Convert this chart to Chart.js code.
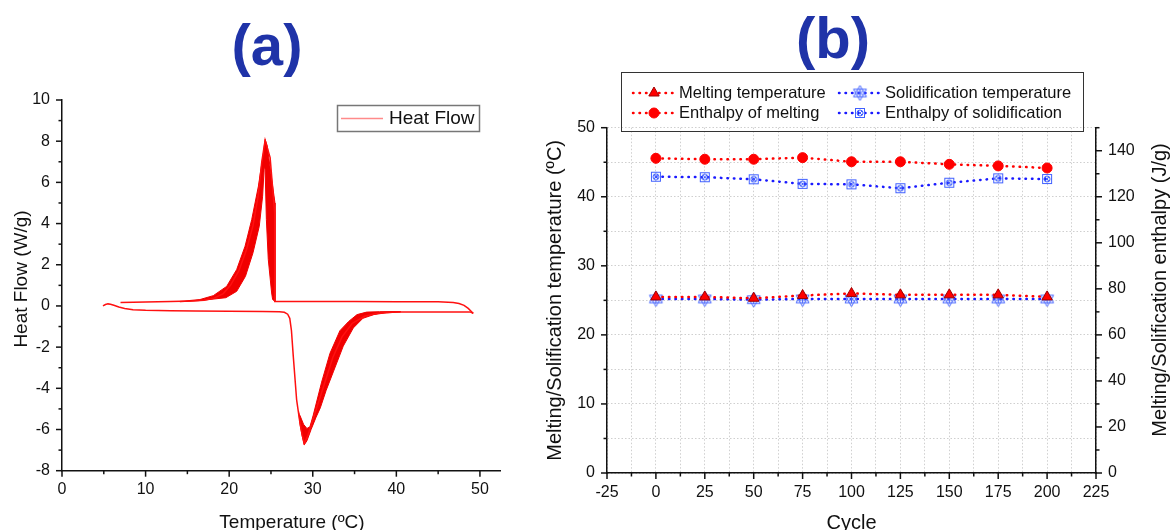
<!DOCTYPE html>
<html>
<head>
<meta charset="utf-8">
<title>DSC and thermal cycling</title>
<script src="https://cdn.jsdelivr.net/npm/chart.js@4.4.1/dist/chart.umd.min.js"></script>
<style>
  html, body { margin: 0; padding: 0; background: #fff; overflow: hidden; }
  #wrap { position: relative; width: 1174px; height: 530px; }
  #wrap canvas { position: absolute; top: 0; }
  #dsc { left: 0; }
  #cyc { left: 540px; }
</style>
</head>
<body>
<div id="wrap">
  <canvas id="dsc" width="530" height="535"></canvas>
  <canvas id="cyc" width="634" height="535"></canvas>
</div>
<script>
const FONT = '"Liberation Sans", Arial, Helvetica, sans-serif';
Chart.defaults.font.family = FONT;
Chart.defaults.color = '#111';

// ---------- (a) DSC scan ----------
// heating run (lower trace): temperature in ºC, heat flow in W/g
const heatT = [4.9, 5.2, 5.5, 5.8, 6.2, 6.8, 7.5, 8.5, 10, 13, 16, 20, 24, 26.0, 26.6, 27.0, 27.25, 27.45, 27.67, 28.07, 28.47, 28.75, 28.99, 29.4, 30.2, 31.3, 32.4, 33.5, 34.7, 36.2, 37.8, 40, 44, 48.8, 49.2];
const heatQ = [0.0, 0.07, 0.1, 0.08, 0.03, -0.05, -0.12, -0.18, -0.21, -0.23, -0.25, -0.26, -0.27, -0.28, -0.31, -0.4, -0.6, -1.2, -2.45, -4.56, -5.69, -6.3, -6.67, -6.3, -5.3, -3.9, -2.5, -1.5, -0.85, -0.5, -0.35, -0.3, -0.29, -0.29, -0.36];
// cooling run (upper trace)
const coolT = [49.2, 49.0, 48.6, 48.1, 47.5, 46.8, 45, 40, 35, 30, 25.45, 25.45, 24.9, 24.3, 23.9, 23.45, 22.85, 22.05, 21.15, 20.15, 19.3, 18.2, 17.0, 15.5, 13, 10, 7.0];
const coolQ = [-0.36, -0.28, -0.12, 0.03, 0.12, 0.17, 0.2, 0.2, 0.21, 0.21, 0.22, 4.5, 7.2, 8.05, 7.0, 5.3, 3.9, 2.7, 1.7, 1.0, 0.6, 0.38, 0.28, 0.24, 0.21, 0.19, 0.17];
// spread of the overlaid cycles around the crystallisation peak (closed outline)
const exoT = [14.1, 16.5, 18.1, 19.7, 20.9, 21.9, 22.7, 23.5, 24.1, 24.3, 24.56, 25.0, 25.48, 25.48, 25.2, 25.08, 24.68, 24.45, 24.3, 24.2, 24.0, 23.6, 22.85, 21.95, 20.9, 19.6, 16.5, 14.1];
const exoQ = [0.22, 0.31, 0.50, 0.95, 1.77, 2.90, 4.20, 5.82, 7.44, 8.09, 7.76, 6.4, 5.0, 0.22, 0.31, 0.63, 2.25, 4.20, 6.63, 6.8, 5.33, 3.87, 2.58, 1.44, 0.71, 0.4, 0.26, 0.20];
// spread around the melting peak
const endoT = [28.3, 28.5, 28.75, 28.97, 29.3, 29.8, 30.4, 30.9, 31.6, 32.46, 33.65, 34.85, 36.0, 37.3, 38.8, 40.5, 40.5, 38.0, 36.44, 35.3, 34.3, 33.25, 32.06, 31.06, 30.06, 29.66, 29.3, 28.9, 28.45];
const endoQ = [-5.1, -5.8, -6.35, -6.75, -6.55, -6.0, -5.4, -4.95, -4.1, -3.2, -1.95, -1.07, -0.6, -0.42, -0.33, -0.3, -0.27, -0.28, -0.3, -0.42, -0.75, -1.2, -2.3, -3.7, -5.3, -5.87, -5.95, -5.75, -5.3];

// ---------- (b) thermal cycling ----------
const cycles = [0, 25, 50, 75, 100, 125, 150, 175, 200];
const meltTemp = [25.5, 25.5, 25.3, 25.7, 26.0, 25.8, 25.8, 25.8, 25.5];
const solidTemp = [25.2, 25.2, 25.1, 25.2, 25.2, 25.2, 25.2, 25.2, 25.2];
const meltEnthalpy = [136.7, 136.3, 136.3, 137.0, 135.2, 135.2, 134.1, 133.4, 132.5];
const solidEnthalpy = [128.7, 128.5, 127.6, 125.6, 125.4, 123.7, 126.1, 128.0, 127.7];

const xy = (xs, ys) => xs.map((x, i) => ({ x: x, y: ys[i] }));

// marker glyphs for the blue series
function hexStar(color) {
  const c = document.createElement('canvas');
  c.width = c.height = 17;
  const g = c.getContext('2d');
  const m = 8.5, r = 7.5;
  g.strokeStyle = color;
  g.lineWidth = 1;
  [-Math.PI / 2, Math.PI / 2].forEach(a0 => {
    g.beginPath();
    for (let k = 0; k < 3; k++) {
      const a = a0 + k * 2 * Math.PI / 3;
      g.lineTo(m + r * Math.cos(a), m + r * Math.sin(a));
    }
    g.closePath();
    g.stroke();
  });
  g.beginPath();
  for (let k = 0; k < 3; k++) {
    const a = Math.PI / 6 + k * Math.PI / 3;
    g.moveTo(m - 4 * Math.cos(a), m - 4 * Math.sin(a));
    g.lineTo(m + 4 * Math.cos(a), m + 4 * Math.sin(a));
  }
  g.stroke();
  return c;
}

function boxedCircle(color) {
  const c = document.createElement('canvas');
  c.width = c.height = 12;
  const g = c.getContext('2d');
  g.strokeStyle = color;
  g.lineWidth = 1;
  g.strokeRect(1.5, 1.5, 9, 9);
  g.beginPath();
  g.arc(6, 6, 3, 0, 2 * Math.PI);
  g.stroke();
  g.beginPath();
  g.moveTo(4, 4); g.lineTo(8, 8);
  g.moveTo(8, 4); g.lineTo(4, 8);
  g.stroke();
  return c;
}

// big panel letter above each plot
const panelTag = {
  id: 'panelTag',
  afterDraw(chart, args, o) {
    const ctx = chart.ctx;
    ctx.save();
    ctx.font = 'bold 58px ' + FONT;
    ctx.fillStyle = '#1f33a8';
    ctx.textAlign = 'center';
    ctx.textBaseline = 'alphabetic';
    ctx.fillText(o.text, o.x, o.y);
    ctx.restore();
  }
};

// outward tick marks, long on labelled values and short in between
const outerTicks = {
  id: 'outerTicks',
  afterDraw(chart, args, o) {
    const ctx = chart.ctx;
    ctx.save();
    ctx.strokeStyle = '#111';
    ctx.lineWidth = 1.5;
    Object.values(chart.scales).forEach(s => {
      const step = o[s.id];
      if (!step) return;
      s.ticks.forEach(t => {
        const q = t.value / step;
        const len = Math.abs(q - Math.round(q)) < 1e-6 ? 6 : 3.5;
        const p = s.getPixelForValue(t.value);
        ctx.beginPath();
        if (s.isHorizontal()) {
          ctx.moveTo(p, s.top); ctx.lineTo(p, s.top + len);
        } else if (s.position === 'left') {
          ctx.moveTo(s.right, p); ctx.lineTo(s.right - len, p);
        } else {
          ctx.moveTo(s.left, p); ctx.lineTo(s.left + len, p);
        }
        ctx.stroke();
      });
    });
    ctx.restore();
  }
};

// framed legend with a line sample and marker per entry
const boxLegend = {
  id: 'boxLegend',
  afterDraw(chart, args, o) {
    const ctx = chart.ctx;
    const ds = chart.data.datasets;
    ctx.save();
    ctx.strokeStyle = o.frame;
    ctx.lineWidth = o.frameWidth;
    ctx.strokeRect(o.box[0], o.box[1], o.box[2], o.box[3]);
    o.items.forEach(it => {
      const d = ds[it.index];
      ctx.save();
      ctx.strokeStyle = o.sampleColor || d.borderColor;
      ctx.lineWidth = o.sampleWidth || d.borderWidth;
      ctx.lineCap = d.borderCapStyle || 'butt';
      ctx.setLineDash(d.borderDash || []);
      ctx.beginPath();
      ctx.moveTo(it.x, it.y);
      ctx.lineTo(it.x + o.sample, it.y);
      ctx.stroke();
      ctx.restore();
      if (d.pointRadius) {
        ctx.fillStyle = d.pointBackgroundColor;
        ctx.strokeStyle = d.pointBorderColor;
        ctx.lineWidth = d.pointBorderWidth;
        Chart.helpers.drawPoint(ctx, { pointStyle: d.pointStyle, radius: d.pointRadius, rotation: 0, borderWidth: d.pointBorderWidth }, it.x + o.sample / 2, it.y);
      }
      ctx.fillStyle = '#111';
      ctx.font = o.fontSize + 'px ' + FONT;
      ctx.textBaseline = 'middle';
      ctx.textAlign = 'left';
      ctx.fillText(d.label, it.x + o.sample + o.gap, it.y);
    });
    ctx.restore();
  }
};

// axis captions placed by hand; vertical ones read bottom to top
const captions = {
  id: 'captions',
  afterDraw(chart, args, o) {
    const ctx = chart.ctx;
    o.list.forEach(c => {
      ctx.save();
      ctx.translate(c.x, c.y);
      if (c.vertical) ctx.rotate(-Math.PI / 2);
      ctx.font = c.size + 'px ' + FONT;
      ctx.fillStyle = '#111';
      ctx.textAlign = 'center';
      ctx.textBaseline = 'middle';
      ctx.fillText(c.text, 0, 0);
      ctx.restore();
    });
  }
};

const tickFont = { size: 16 };
const every = n => v => (Math.abs(v / n - Math.round(v / n)) < 1e-6 ? v : '');

// ---------- chart (a) ----------
new Chart(document.getElementById('dsc'), {
  type: 'line',
  data: {
    datasets: [
      { label: 'Heat Flow', data: xy(coolT, coolQ), borderColor: '#ff1010', borderWidth: 1.5, pointRadius: 0, tension: 0, fill: false },
      { label: 'Heat Flow (heating)', data: xy(heatT, heatQ), borderColor: '#ff1010', borderWidth: 1.5, pointRadius: 0, tension: 0, fill: false },
      { label: '', data: xy(exoT, exoQ), borderColor: '#f00000', backgroundColor: '#f00000', borderWidth: 1, pointRadius: 0, tension: 0, fill: 'shape' },
      { label: '', data: xy(endoT, endoQ), borderColor: '#f00000', backgroundColor: '#f00000', borderWidth: 1, pointRadius: 0, tension: 0, fill: 'shape' }
    ]
  },
  options: {
    responsive: false,
    animation: false,
    devicePixelRatio: 1,
    events: [],
    layout: { padding: { top: 100, right: 30, left: 0, bottom: 0 } },
    plugins: {
      legend: { display: false },
      tooltip: { enabled: false },
      panelTag: { text: '(a)', x: 267, y: 65 },
      outerTicks: { x: 10, y: 2 },
      captions: {
        list: [
          { text: 'Temperature (ºC)', x: 292, y: 523, size: 19 },
          { text: 'Heat Flow (W/g)', x: 22, y: 279, size: 19, vertical: true }
        ]
      },
      boxLegend: {
        box: [337.5, 105.5, 142, 26], frame: '#777', frameWidth: 1.5,
        items: [{ index: 0, x: 341, y: 118.5 }],
        sample: 42, gap: 6, fontSize: 19, sampleColor: '#ff8a8a', sampleWidth: 1.5
      }
    },
    scales: {
      x: {
        type: 'linear', min: 0, max: 52.4,
        afterFit: s => { s.height = 64.3; },
        ticks: { stepSize: 5, includeBounds: false, autoSkip: false, maxRotation: 0, padding: 9, font: tickFont, color: '#111', callback: every(10) },
        grid: { display: false, drawTicks: false },
        border: { color: '#111', width: 1.5 }
      },
      y: {
        min: -8, max: 10,
        afterFit: s => { s.width = 62; },
        ticks: { stepSize: 1, includeBounds: false, autoSkip: false, padding: 12, font: tickFont, color: '#111', callback: every(2) },
        grid: { display: false, drawTicks: false },
        border: { color: '#111', width: 1.5 }
      }
    }
  },
  plugins: [panelTag, outerTicks, boxLegend, captions]
});

// ---------- chart (b) ----------
const red = '#ff0000';
const blue = '#1a1aff';
const lightBlue = '#4060ff';
const dotted = [0.5, 6];

new Chart(document.getElementById('cyc'), {
  type: 'line',
  data: {
    datasets: [
      {
        label: 'Melting temperature', data: xy(cycles, meltTemp), yAxisID: 'y',
        borderColor: red, borderWidth: 2.5, borderDash: dotted, borderCapStyle: 'round',
        pointStyle: 'triangle', pointRadius: 6, pointBackgroundColor: red, pointBorderColor: '#a00000', pointBorderWidth: 1
      },
      {
        label: 'Solidification temperature', data: xy(cycles, solidTemp), yAxisID: 'y',
        borderColor: blue, borderWidth: 2.5, borderDash: dotted, borderCapStyle: 'round',
        pointStyle: hexStar(lightBlue), pointRadius: 7, pointBackgroundColor: lightBlue, pointBorderColor: lightBlue, pointBorderWidth: 1
      },
      {
        label: 'Enthalpy of melting', data: xy(cycles, meltEnthalpy), yAxisID: 'y1',
        borderColor: red, borderWidth: 2.5, borderDash: dotted, borderCapStyle: 'round',
        pointStyle: 'circle', pointRadius: 5, pointBackgroundColor: red, pointBorderColor: red, pointBorderWidth: 1
      },
      {
        label: 'Enthalpy of solidification', data: xy(cycles, solidEnthalpy), yAxisID: 'y1',
        borderColor: blue, borderWidth: 2.5, borderDash: dotted, borderCapStyle: 'round',
        pointStyle: boxedCircle(lightBlue), pointRadius: 6, pointBackgroundColor: lightBlue, pointBorderColor: lightBlue, pointBorderWidth: 1
      }
    ]
  },
  options: {
    responsive: false,
    animation: false,
    devicePixelRatio: 1,
    events: [],
    layout: { padding: { top: 127.7, right: 0, left: 0, bottom: 0 } },
    plugins: {
      legend: { display: false },
      tooltip: { enabled: false },
      panelTag: { text: '(b)', x: 293, y: 58 },
      outerTicks: { x: 25, y: 10, y1: 20 },
      captions: {
        list: [
          { text: 'Melting/Solification enthalpy (J/g)', x: 620, y: 290, size: 20, vertical: true }
        ]
      },
      boxLegend: {
        box: [81.5, 72.5, 462, 59], frame: '#333', frameWidth: 1,
        items: [
          { index: 0, x: 93, y: 93 },
          { index: 1, x: 299, y: 93 },
          { index: 2, x: 93, y: 113 },
          { index: 3, x: 299, y: 113 }
        ],
        sample: 42, gap: 4, fontSize: 16.5
      }
    },
    scales: {
      x: {
        type: 'linear', min: -25, max: 225,
        afterFit: s => { s.height = 62; },
        ticks: { stepSize: 12.5, includeBounds: false, autoSkip: false, maxRotation: 0, padding: 10, font: tickFont, color: '#111', callback: every(25) },
        grid: { color: '#cfcfcf', lineWidth: 1, drawTicks: false },
        border: { color: '#111', width: 1.5, dash: [1.5, 2] },
        title: { display: true, text: 'Cycle', font: { size: 20 }, color: '#111', padding: 0 }
      },
      y: {
        position: 'left', min: 0, max: 50,
        afterFit: s => { s.width = 67; },
        ticks: { stepSize: 5, includeBounds: false, autoSkip: false, padding: 12, font: tickFont, color: '#111', callback: every(10) },
        grid: { color: '#cfcfcf', lineWidth: 1, drawTicks: false },
        border: { color: '#111', width: 1.5, dash: [1.5, 2] },
        title: { display: true, text: 'Melting/Solification temperature (ºC)', font: { size: 20 }, color: '#111', padding: { top: 3, bottom: 0 } }
      },
      y1: {
        position: 'right', min: 0, max: 150,
        afterFit: s => { s.width = 78; },
        ticks: { stepSize: 10, includeBounds: false, autoSkip: false, padding: 12, font: tickFont, color: '#111', callback: every(20) },
        grid: { display: false, drawTicks: false },
        border: { color: '#111', width: 1.5 }
      }
    }
  },
  plugins: [panelTag, outerTicks, boxLegend, captions]
});
</script>
</body>
</html>
